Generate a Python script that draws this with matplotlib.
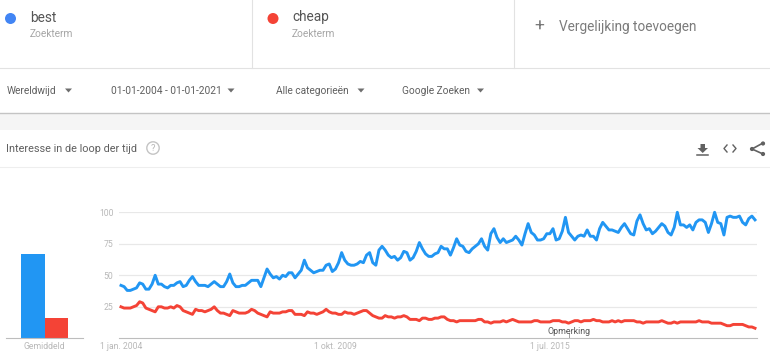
import numpy as np
import matplotlib
matplotlib.use('Agg')
import matplotlib.pyplot as plt
from matplotlib.patches import Circle, Polygon, Rectangle

plt.rcParams['font.family'] = ['Roboto', 'DejaVu Sans']

# monthly values, jan 2004 - jan 2021
best = [42, 41, 38, 38, 39, 40, 44, 43, 39, 39,
        43, 50, 43, 43, 41, 40, 42, 42, 44, 45,
        41, 42, 46, 49, 45, 42, 42, 42, 41, 43,
        45, 43, 41, 41, 45, 51, 44, 41, 41, 42,
        42, 44, 46, 46, 46, 41, 48, 55, 51, 48,
        49, 47, 50, 49, 52, 52, 48, 51, 54, 62,
        56, 54, 52, 53, 54, 54, 58, 59, 53, 55,
        60, 68, 62, 59, 58, 58, 59, 61, 60, 66,
        68, 60, 58, 70, 73, 70, 66, 64, 65, 62,
        64, 69, 68, 62, 64, 69, 76, 71, 67, 65,
        65, 67, 68, 73, 71, 71, 66, 72, 79, 74,
        73, 69, 68, 71, 73, 75, 79, 73, 70, 83,
        87, 80, 76, 79, 76, 77, 78, 81, 78, 74,
        83, 91, 84, 82, 78, 78, 79, 83, 83, 87,
        78, 79, 85, 96, 84, 81, 78, 81, 82, 81,
        86, 81, 81, 78, 87, 92, 89, 86, 86, 85,
        84, 88, 91, 87, 83, 82, 93, 98, 91, 86,
        87, 83, 85, 88, 91, 89, 84, 82, 88, 100,
        90, 90, 88, 90, 86, 92, 94, 94, 92, 84,
        91, 100, 92, 91, 82, 96, 97, 96, 96, 97,
        92, 90, 95, 97, 94]
cheap = [25, 24, 24, 24, 25, 26, 29, 28, 24, 23,
         22, 21, 25, 25, 24, 24, 25, 24, 26, 25,
         22, 21, 20, 19, 23, 22, 22, 21, 22, 23,
         25, 22, 20, 20, 19, 18, 22, 21, 20, 20,
         20, 21, 23, 22, 20, 19, 18, 17, 21, 20,
         20, 20, 21, 21, 22, 22, 19, 19, 19, 18,
         21, 20, 20, 19, 20, 21, 23, 21, 20, 20,
         19, 19, 21, 20, 20, 19, 20, 21, 22, 22,
         20, 18, 17, 16, 16, 18, 17, 17, 16, 17,
         17, 18, 17, 15, 15, 15, 14, 16, 16, 15,
         15, 16, 16, 17, 17, 15, 14, 14, 13, 14,
         14, 14, 14, 14, 14, 15, 15, 13, 13, 12,
         13, 13, 13, 14, 13, 14, 15, 14, 13, 13,
         13, 13, 13, 14, 14, 13, 13, 13, 13, 14,
         14, 14, 13, 13, 12, 13, 14, 14, 13, 14,
         14, 14, 15, 14, 14, 13, 13, 13, 14, 13,
         14, 13, 14, 14, 14, 14, 13, 13, 12, 13,
         13, 13, 13, 13, 14, 13, 12, 12, 13, 12,
         13, 13, 13, 13, 13, 13, 14, 13, 13, 13,
         12, 12, 12, 12, 11, 10, 10, 11, 11, 11,
         11, 10, 9, 9, 8]
terms = ['best', 'cheap']
averages = [67, 16]
y_ticks = [25, 50, 75, 100]
x_ticks = [0, 69, 138]
x_labels = ['1 jan. 2004', '1 okt. 2009', '1 jul. 2015']
note_month = 144
filters = ['Wereldwijd', '01-01-2004 - 01-01-2021', 'Alle categorieën', 'Google Zoeken']

W, H = 770, 361
BLUE, RED = '#2196f3', '#f44336'
GRID = '#e8e8e8'
AXIS = '#bdbdbd'
TICK = '#b8b8b8'


def px_axes(left, right, top, bottom):
    return fig.add_axes([left / W, 1 - bottom / H, (right - left) / W, (bottom - top) / H])


fig = plt.figure(figsize=(W / 100, H / 100), dpi=100)

# page furniture, in pixels
ui = fig.add_axes([0, 0, 1, 1])
ui.set_xlim(0, W)
ui.set_ylim(H, 0)
ui.axis('off')

ui.add_patch(Rectangle((0, 113), W, 17, color='#f5f5f5', lw=0))
ui.plot([0, W], [113, 113], color='#c4c4c4', lw=1.0)
ui.plot([0, W], [68, 68], color='#e2e2e2', lw=0.8)
ui.plot([0, W], [167, 167], color='#eeeeee', lw=0.8)
ui.plot([252, 252], [0, 68], color='#e2e2e2', lw=0.8)
ui.plot([514, 514], [0, 68], color='#e2e2e2', lw=0.8)

ui.add_patch(Circle((10.5, 18.5), 5.5, color='#4285f4', lw=0))
ui.add_patch(Circle((273, 18.5), 5.5, color='#f44336', lw=0))
for term, tx in zip(terms, [30, 292]):
    ui.text(tx, 17.5, term, fontsize=9.8, color='#555555', va='center')
    ui.text(tx, 34, 'Zoekterm', fontsize=7.3, color='#a6a6a6', va='center')

ui.text(539, 26, '+', fontsize=12.5, color='#757575', ha='center', va='center')
ui.text(559, 27, 'Vergelijking toevoegen', fontsize=9.8, color='#7b7b7b', va='center')

for label, tx, arrow in zip(filters, [7, 111, 275.5, 402.5], [68.5, 231, 361, 480.5]):
    ui.text(tx, 90.5, label, fontsize=7.25, color='#5f5f5f', va='center')
    ui.add_patch(Polygon([(arrow - 3.5, 88.5), (arrow + 3.5, 88.5), (arrow, 92.5)], color='#6e6e6e', lw=0))

ui.text(6, 148.5, 'Interesse in de loop der tijd', fontsize=7.85, color='#5f5f5f', va='center')
ui.add_patch(Circle((153, 148), 6.2, fill=False, ec='#c4c4c4', lw=1.0))
ui.text(153, 148.5, '?', fontsize=6.8, color='#b5b5b5', ha='center', va='center')

# download, embed and share icons
ui.add_patch(Polygon([(700.5, 144), (705, 144), (705, 148), (708, 148), (702.7, 153),
                      (697.5, 148), (700.5, 148)], color='#616161', lw=0))
ui.plot([697, 708], [154.7, 154.7], color='#616161', lw=1.1)
ui.plot([727, 724, 727], [145, 148.5, 152], color='#616161', lw=1.0)
ui.plot([733, 736, 733], [145, 148.5, 152], color='#616161', lw=1.0)
ui.plot([763, 752, 763], [143, 149, 154], color='#616161', lw=1.2)
for cx, cy in [(763, 143.5), (752, 149), (763, 154)]:
    ui.add_patch(Circle((cx, cy), 2.1, color='#616161', lw=0))

# average bars
bars = px_axes(6, 83, 212.3, 338.3)
bars.bar([0, 1], averages, width=1, color=[BLUE, RED])
bars.set_xlim(-1.138, 2.138)
bars.set_ylim(0, 100)
bars.set_yticks([])
bars.set_xticks([0.5])
bars.set_xticklabels(['Gemiddeld'], fontsize=6.2, color=TICK)
bars.tick_params(axis='x', length=0, pad=3)
bars.patch.set_alpha(0)
for side in ['top', 'left', 'right']:
    bars.spines[side].set_visible(False)
bars.spines['bottom'].set_color(AXIS)

# interest over time
ax = px_axes(119, 757, 212.3, 338.3)
months = np.arange(len(best))
ax.plot(months, best, color=BLUE, lw=2.1, clip_on=False, solid_joinstyle='round', zorder=3)
ax.plot(months, cheap, color=RED, lw=2.1, clip_on=False, solid_joinstyle='round', zorder=3)
ax.set_xlim(-0.64, 204.64)
ax.set_ylim(0, 100)
ax.set_yticks(y_ticks)
ax.set_yticklabels(y_ticks, fontsize=6.2, color=TICK)
ax.set_xticks(x_ticks)
ax.set_xticklabels(x_labels, fontsize=6.2, color=TICK)
ax.tick_params(axis='both', length=0)
ax.tick_params(axis='x', pad=3)
ax.tick_params(axis='y', pad=4)
ax.grid(axis='y', color=GRID, lw=0.9)
ax.set_axisbelow(True)
ax.patch.set_alpha(0)
for side in ['top', 'left', 'right']:
    ax.spines[side].set_visible(False)
ax.spines['bottom'].set_color(AXIS)

ax.plot([note_month, note_month], [0, 4], color='#9e9e9e', lw=0.7, zorder=4)
ax.text(note_month, 5.5, 'Opmerking', fontsize=6.4, color='#555555', ha='center', va='center', zorder=5)

fig.savefig('out.png', dpi=100)
